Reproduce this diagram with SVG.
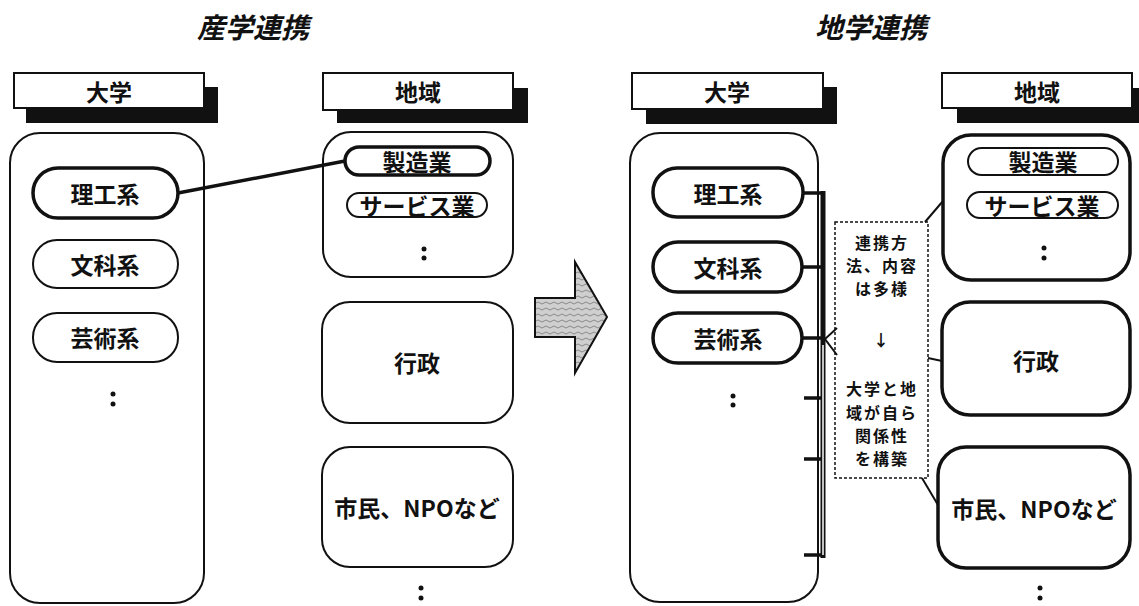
<svg xmlns="http://www.w3.org/2000/svg" width="1139" height="606" viewBox="0 0 1139 606">
<style>
text{font-family:"Noto Sans CJK JP","Noto Sans CJK SC",sans-serif;font-weight:bold;fill:#111;text-anchor:middle;dominant-baseline:central}
.title{font-size:28px;font-style:italic}
.hd{font-size:23px}
.lbl{font-size:23px}
.co{font-size:16px;letter-spacing:2px}
.hdbox{fill:#fff;stroke:#111;stroke-width:2}
.shadow{fill:#111}
.big{fill:#fff;stroke:#111;stroke-width:2}
.bigt{fill:#fff;stroke:#111;stroke-width:3.5}
.pill{fill:#fff;stroke:#111;stroke-width:2}
.pillt{fill:#fff;stroke:#111;stroke-width:3.5}
.dot{fill:#111}
.conn{stroke:#111;stroke-width:3.5;fill:none}
.thin{stroke:#111;stroke-width:2;fill:none}
.callout{fill:#fff;stroke:#111;stroke-width:1.5;stroke-dasharray:3 2}
</style>
<defs>
<pattern id="tex" width="8" height="6" patternUnits="userSpaceOnUse">
<rect width="8" height="6" fill="#cfcfcf"/>
<path d="M0 3 Q2 1 4 3 T8 3" stroke="#8a8a8a" stroke-width="1" fill="none"/>
</pattern>
</defs>

<text class="title" x="253" y="26">産学連携</text>
<text class="title" x="871" y="26">地学連携</text>

<!-- Left: 産学連携 -->
<g id="hdr-univ-left">
<rect class="shadow" x="26" y="87" width="192" height="36"/>
<rect class="hdbox" x="14" y="73" width="190" height="35"/>
<text class="hd" x="109" y="91">大学</text>
</g>
<g id="box-univ-left">
<rect class="big" x="10" y="133" width="194" height="470" rx="30"/>
<circle class="dot" cx="113" cy="394" r="2.5"/>
<circle class="dot" cx="113" cy="404" r="2.5"/>
</g>
<g id="pill-riko-left">
<rect class="pillt" x="33" y="168" width="145" height="50" rx="25"/>
<text class="lbl" x="105" y="193">理工系</text>
</g>
<g id="pill-bunka-left">
<rect class="pill" x="33" y="240" width="145" height="48" rx="24"/>
<text class="lbl" x="105" y="264">文科系</text>
</g>
<g id="pill-geijutsu-left">
<rect class="pill" x="33" y="313" width="145" height="49" rx="24"/>
<text class="lbl" x="105" y="337">芸術系</text>
</g>

<g id="hdr-region-left">
<rect class="shadow" x="337" y="88" width="191" height="35"/>
<rect class="hdbox" x="323" y="73" width="190" height="37"/>
<text class="hd" x="418" y="91">地域</text>
</g>
<g id="box-industry-left">
<rect class="big" x="323" y="132" width="190" height="145" rx="28"/>
<circle class="dot" cx="424" cy="249" r="2.5"/>
<circle class="dot" cx="424" cy="258" r="2.5"/>
</g>
<g id="pill-seizo-left">
<rect class="pillt" x="345" y="147" width="145" height="28" rx="14"/>
<text class="lbl" x="417" y="161">製造業</text>
</g>
<g id="pill-service-left">
<rect class="pill" x="347" y="193" width="140" height="24" rx="12"/>
<text class="lbl" x="417" y="205">サービス業</text>
</g>
<g id="box-gyosei-left">
<rect class="big" x="322" y="302" width="191" height="121" rx="28"/>
<text class="lbl" x="417" y="362">行政</text>
</g>
<g id="box-shimin-left">
<rect class="big" x="322" y="447" width="191" height="120" rx="28"/>
<text class="lbl" x="417" y="507">市民、NPOなど</text>
</g>
<g id="dots-left-bottom">
<circle class="dot" cx="421" cy="588" r="2.5"/>
<circle class="dot" cx="421" cy="598" r="2.5"/>
</g>

<!-- Arrow -->
<g id="arrow">
<polygon points="535,298 575,298 575,262 607,317 575,373 575,337 535,337" fill="url(#tex)" stroke="#111" stroke-width="2"/>
</g>

<!-- Right: 地学連携 -->
<g id="hdr-univ-right">
<rect class="shadow" x="646" y="87" width="191" height="37"/>
<rect class="hdbox" x="632" y="73" width="191" height="36"/>
<text class="hd" x="727" y="91">大学</text>
</g>
<g id="box-univ-right">
<rect class="big" x="630" y="133" width="188" height="469" rx="30"/>
<circle class="dot" cx="733" cy="396" r="2.5"/>
<circle class="dot" cx="733" cy="405" r="2.5"/>
</g>
<g id="pill-riko-right">
<rect class="pillt" x="653" y="168" width="150" height="49" rx="24"/>
<text class="lbl" x="728" y="193">理工系</text>
</g>
<g id="pill-bunka-right">
<rect class="pillt" x="653" y="242" width="149" height="50" rx="25"/>
<text class="lbl" x="728" y="267">文科系</text>
</g>
<g id="pill-geijutsu-right">
<rect class="pillt" x="653" y="313" width="149" height="50" rx="25"/>
<text class="lbl" x="728" y="338">芸術系</text>
</g>

<g id="hdr-region-right">
<rect class="shadow" x="957" y="88" width="182" height="35"/>
<rect class="hdbox" x="942" y="73" width="190" height="35"/>
<text class="hd" x="1037" y="91">地域</text>
</g>
<g id="box-industry-right">
<rect class="bigt" x="943" y="135" width="187" height="145" rx="28"/>
<circle class="dot" cx="1044" cy="248" r="2.5"/>
<circle class="dot" cx="1044" cy="258" r="2.5"/>
</g>
<g id="pill-seizo-right">
<rect class="pill" x="968" y="148" width="150" height="27" rx="13.5"/>
<text class="lbl" x="1043" y="161">製造業</text>
</g>
<g id="pill-service-right">
<rect class="pill" x="967" y="192" width="151" height="26" rx="13"/>
<text class="lbl" x="1042" y="205">サービス業</text>
</g>
<g id="box-gyosei-right">
<rect class="bigt" x="942" y="302" width="188" height="113" rx="28"/>
<text class="lbl" x="1036" y="360">行政</text>
</g>
<g id="box-shimin-right">
<rect class="bigt" x="938" y="447" width="192" height="121" rx="28"/>
<text class="lbl" x="1034" y="508">市民、NPOなど</text>
</g>
<g id="dots-right-bottom">
<circle class="dot" cx="1040" cy="588" r="2.5"/>
<circle class="dot" cx="1040" cy="598" r="2.5"/>
</g>

<g id="callout">
<rect class="callout" x="835" y="222" width="93" height="256"/>
<text class="co" x="882" y="242">連携方</text>
<text class="co" x="882" y="265">法、内容</text>
<text class="co" x="882" y="288">は多様</text>
<text class="co" x="882" y="339">↓</text>
<text class="co" x="882" y="388">大学と地</text>
<text class="co" x="882" y="412">域が自ら</text>
<text class="co" x="882" y="435">関係性</text>
<text class="co" x="882" y="458">を構築</text>
</g>

<!-- Connectors -->
<g id="connectors">
<line class="conn" x1="178" y1="193" x2="345" y2="161"/>
<line class="conn" x1="803" y1="193" x2="823" y2="193"/>
<line class="conn" x1="802" y1="267" x2="823" y2="267"/>
<line class="conn" x1="802" y1="338" x2="823" y2="338"/>
<line class="conn" x1="804" y1="398" x2="823" y2="398"/>
<line class="conn" x1="804" y1="459" x2="823" y2="459"/>
<line class="conn" x1="804" y1="555" x2="823" y2="555"/>
<line x1="823" y1="191" x2="823" y2="558" stroke="#111" stroke-width="5"/>
<line x1="823" y1="345" x2="823" y2="555" stroke="#fff" stroke-width="1.5"/>
<polyline class="thin" points="837,328 825,339 837,355"/>
<line class="thin" x1="925" y1="222" x2="943" y2="201"/>
<line class="thin" x1="928" y1="358" x2="942" y2="361"/>
<line class="thin" x1="922" y1="478" x2="938" y2="505"/>
</g>
</svg>
